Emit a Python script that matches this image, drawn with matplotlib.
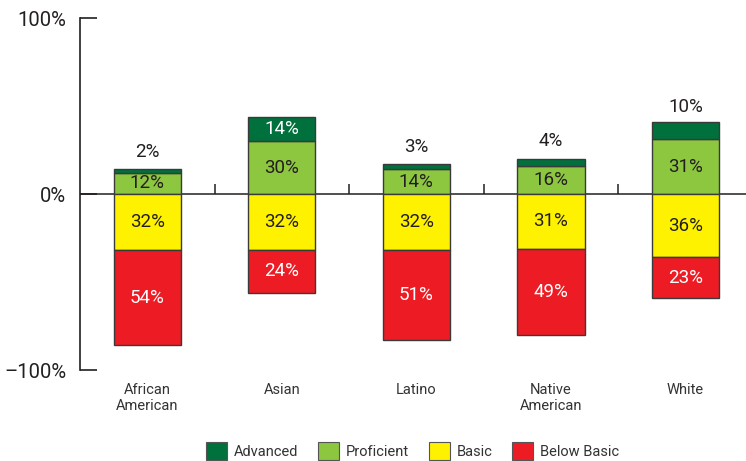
import matplotlib.pyplot as plt
import numpy as np
from matplotlib.patches import Patch

plt.rcParams['font.family'] = ['Roboto', 'DejaVu Sans']

groups = ['African\nAmerican', 'Asian', 'Latino', 'Native\nAmerican', 'White']
advanced = [2, 14, 3, 4, 10]
proficient = [12, 30, 14, 16, 31]
basic = [32, 32, 32, 31, 36]
below_basic = [54, 24, 51, 49, 23]
levels = ['Advanced', 'Proficient', 'Basic', 'Below Basic']
colors = ['#00703C', '#8DC63F', '#FFF200', '#ED1C24']
ink = '#231F20'

fig = plt.figure(figsize=(7.46, 4.61), dpi=100)
ax = fig.add_axes([80/746, 91/461, 1 - 80/746, 352/461])

x = np.arange(len(groups))
w = 0.5
ec = '#3a3a3a'
adv = np.array(advanced)
prof = np.array(proficient)
bas = np.array(basic)
bel = np.array(below_basic)

ax.bar(x, prof, w, bottom=0, color=colors[1], edgecolor=ec, lw=1)
ax.bar(x, adv, w, bottom=prof, color=colors[0], edgecolor=ec, lw=1)
ax.bar(x, -bas, w, bottom=0, color=colors[2], edgecolor=ec, lw=1)
ax.bar(x, -bel, w, bottom=-bas, color=colors[3], edgecolor=ec, lw=1)

fs = 13.5
for i in x:
    ax.text(i, prof[i] / 2, f'{prof[i]}%', ha='center', va='center', fontsize=fs, color=ink)
    ax.text(i, -bas[i] / 2, f'{bas[i]}%', ha='center', va='center', fontsize=fs, color=ink)
    ax.text(i, -bas[i] - bel[i] / 2, f'{bel[i]}%', ha='center', va='center', fontsize=fs, color='white')
    if adv[i] >= 8 and i != 4:
        ax.text(i, prof[i] + adv[i] / 2, f'{adv[i]}%', ha='center', va='center', fontsize=fs, color='white')
    else:
        ax.annotate(f'{adv[i]}%', (i, prof[i] + adv[i]), xytext=(0, 4 if adv[i] >= 8 else 6),
                    textcoords='offset points', ha='center', va='bottom', fontsize=fs, color=ink)

ax.axhline(0, color=ink, lw=1.1, zorder=0)
for b in x[:-1] + 0.5:
    ax.plot([b, b], [0, 5.7], color=ink, lw=1.1, solid_capstyle='butt')

ax.set_xlim(-0.5, 4.45)
ax.set_ylim(-100, 100)
for s in ['top', 'right', 'bottom']:
    ax.spines[s].set_visible(False)
ax.spines['left'].set_color(ink)
ax.spines['left'].set_linewidth(1.2)
ax.set_yticks([-100, 0, 100])
ax.set_yticklabels(['\u2013100%', '0%', '100%'], fontsize=14.5, color=ink)
ax.tick_params(axis='y', direction='in', length=12.5, width=1.2, color=ink, pad=10)
ax.set_xticks(x)
ax.set_xticklabels(groups, fontsize=10.5, color='#333333', linespacing=1.25)
ax.tick_params(axis='x', length=0, pad=9)

handles = [Patch(facecolor=c, edgecolor='#555555', lw=0.8) for c in colors]
fig.legend(handles, levels, loc='center', bbox_to_anchor=(0.553, 0.022), ncol=4, frameon=False,
           fontsize=10.5, handlelength=1.45, handleheight=1.45, handletextpad=0.45,
           columnspacing=1.35, labelcolor='#333333')

fig.savefig('out.png', dpi=100)
